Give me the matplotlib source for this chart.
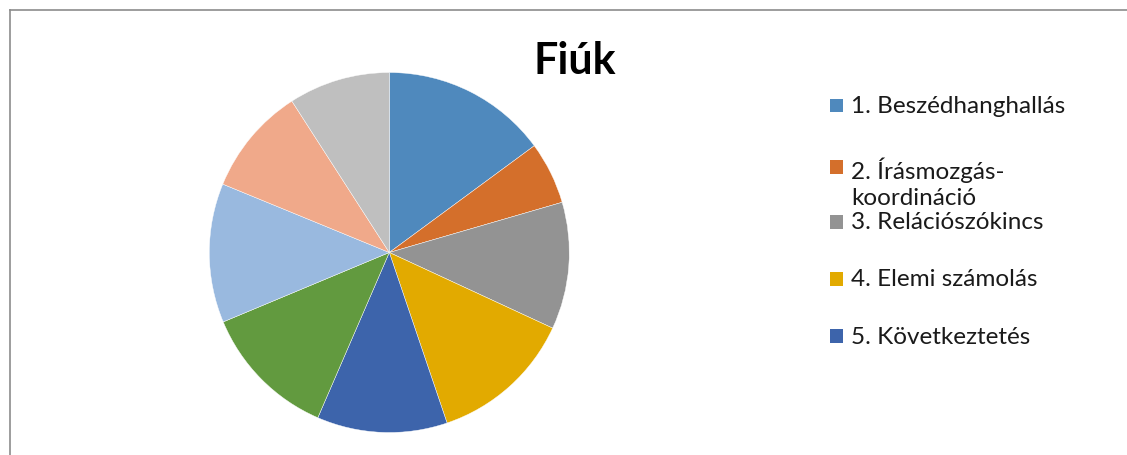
import matplotlib.pyplot as plt
from matplotlib.patches import Rectangle
from matplotlib.lines import Line2D

# slice shares (clockwise from 12 o'clock)
values = [14.9, 5.6, 11.4, 12.9, 11.7, 12.2, 12.5, 9.7, 9.1]
colors = ['#4F89BD', '#D46F2B', '#939393', '#E2AA00', '#3D64AB',
          '#629A3F', '#99B9DF', '#F0A98A', '#BFBFBF']
# only the first five legend entries are visible in the chart
legend_labels = ['1. Beszédhanghallás', '2. Írásmozgás-\nkoordináció',
                 '3. Relációszókincs', '4. Elemi számolás', '5. Következtetés']
title = 'Fiúk'

W, H = 1127, 456
fig = plt.figure(figsize=(W / 100, H / 100), dpi=100)
plt.rcParams['font.family'] = ['Lato', 'DejaVu Sans']

# outer frame (left and top edges visible)
fig.add_artist(Line2D([9.5 / W, 9.5 / W], [0, 1 - 10.5 / H],
                      transform=fig.transFigure, color='#8c8c8c', lw=1.2))
fig.add_artist(Line2D([9.5 / W, 1], [1 - 10.5 / H, 1 - 10.5 / H],
                      transform=fig.transFigure, color='#8c8c8c', lw=1.2))

# pie: centre (389, 253) px, radius ~180 px
cx, cy, r = 389.3, 253.5, 180
ax = fig.add_axes([(cx - r) / W, 1 - (cy + r) / H, 2 * r / W, 2 * r / H])
ax.pie(values, colors=colors, startangle=90, counterclock=False,
       wedgeprops=dict(edgecolor='white', linewidth=0.3))
ax.set_xlim(-1, 1)
ax.set_ylim(-1, 1)
ax.set_aspect('auto')
ax.axis('off')

fig.text(575 / W, 1 - 61 / H, title, fontsize=31, fontweight='bold',
         ha='center', va='center')

# legend drawn by hand (second entry wraps onto two lines)
entry_y = [106.5, 168, 223, 280, 337]
sq = 13.5
for lab, col, y in zip(legend_labels, colors, entry_y):
    fig.add_artist(Rectangle(((829.5) / W, 1 - (y + sq / 2) / H), sq / W, sq / H,
                             transform=fig.transFigure, facecolor=col,
                             edgecolor='none'))
    fig.text(851 / W, 1 - (y - 10.5) / H, lab, fontsize=17.5, ha='left',
             va='top', color='#1a1a1a', linespacing=1.32)

fig.savefig('out.png', dpi=100)
